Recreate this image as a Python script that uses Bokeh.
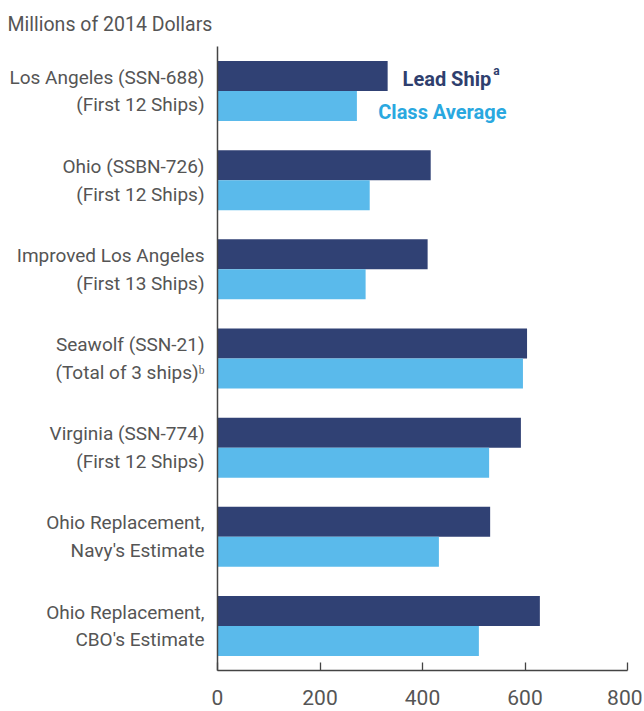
from bokeh.plotting import figure
from bokeh.models import Range1d, FixedTicker, Label
from bokeh.embed import file_html
from bokeh.resources import INLINE

categories = [
    "Los Angeles (SSN-688)\n(First 12 Ships)",
    "Ohio (SSBN-726)\n(First 12 Ships)",
    "Improved Los Angeles\n(First 13 Ships)",
    "Seawolf (SSN-21)\n(Total of 3 ships)\u1d47",
    "Virginia (SSN-774)\n(First 12 Ships)",
    "Ohio Replacement,\nNavy's Estimate",
    "Ohio Replacement,\nCBO's Estimate",
]
lead_ship = [332, 416, 410, 604, 592, 532, 629]
class_average = [272, 297, 289, 596, 530, 432, 510]
x_ticks = [0, 200, 400, 600, 800]

DARK = "#304174"
LIGHT = "#5ABAEB"
TEXT = "#555555"
FONT = "Roboto"

n = len(categories)
idx = list(range(n))
bar_h = 0.3366
y_lead = [i - bar_h / 2 for i in idx]
y_avg = [i + bar_h / 2 for i in idx]

p = figure(width=642, height=709, output_backend="svg", toolbar_location=None,
           x_range=Range1d(0, 800), y_range=Range1d(n - 0.5, -0.5),
           min_border_left=217, min_border_right=15, min_border_top=46, min_border_bottom=39)
p.outline_line_color = None
p.xgrid.visible = False
p.ygrid.visible = False

p.title.text = "Millions of 2014 Dollars"
p.title.align = "left"
p.title.vertical_align = "top"
p.title.offset = -210
p.title.standoff = 17
p.title.text_font = FONT
p.title.text_font_size = "19.5px"
p.title.text_font_style = "normal"
p.title.text_color = TEXT

p.hbar(y=y_lead, right=lead_ship, left=0, height=bar_h, color=DARK, line_color=None)
p.hbar(y=y_avg, right=class_average, left=0, height=bar_h, color=LIGHT, line_color=None)

xa = p.xaxis[0]
xa.ticker = FixedTicker(ticks=x_ticks)
xa.major_tick_in = 8
xa.major_tick_out = 0
xa.minor_tick_line_color = None
xa.axis_line_color = "#444444"
xa.axis_line_width = 1.3
xa.major_tick_line_color = "#444444"
xa.major_tick_line_width = 1.3
xa.major_label_text_font = FONT
xa.major_label_text_font_size = "21px"
xa.major_label_text_color = TEXT
xa.major_label_standoff = 19

ya = p.yaxis[0]
ya.ticker = FixedTicker(ticks=idx)
ya.major_label_overrides = {i: c for i, c in zip(idx, categories)}
ya.major_tick_in = 0
ya.major_tick_out = 0
ya.minor_tick_line_color = None
ya.axis_line_color = "#444444"
ya.axis_line_width = 1.5
ya.major_label_text_font = FONT
ya.major_label_text_font_size = "19px"
ya.major_label_text_color = TEXT
ya.major_label_text_line_height = 1.2
ya.major_label_standoff = 13

p.add_layout(Label(x=534, y=-0.13, text="Lead Ship", text_font=FONT, text_font_style="bold",
                   text_font_size="20px", text_color="#2F3F6E", text_align="right",
                   text_baseline="middle"))
p.add_layout(Label(x=538, y=-0.23, text="a", text_font=FONT, text_font_style="bold",
                   text_font_size="12px", text_color="#2F3F6E", text_align="left",
                   text_baseline="middle"))
p.add_layout(Label(x=564, y=0.24, text="Class Average", text_font=FONT, text_font_style="bold",
                   text_font_size="20px", text_color="#2AA8E0", text_align="right",
                   text_baseline="middle"))

open("out.html", "w").write(file_html(p, INLINE))
